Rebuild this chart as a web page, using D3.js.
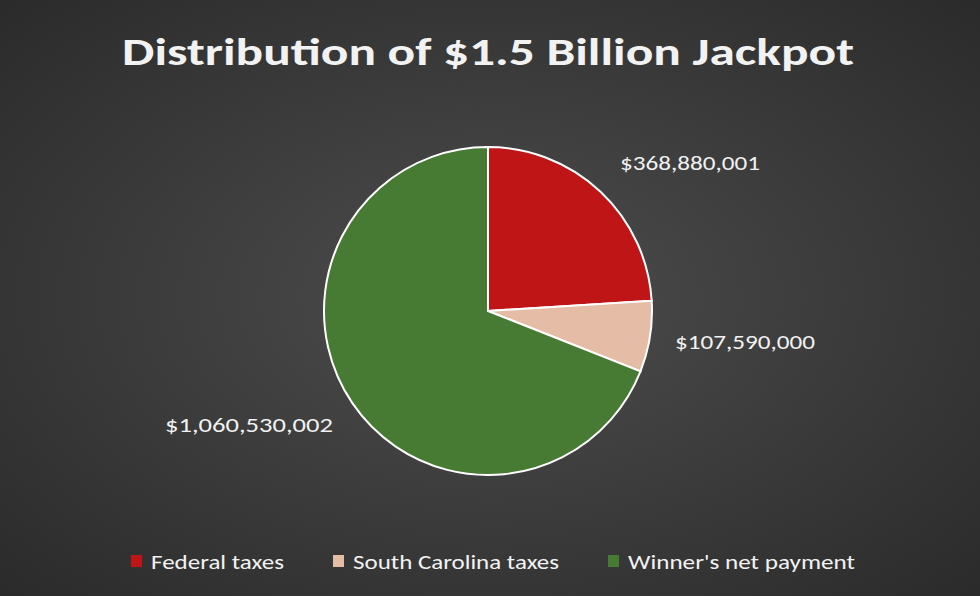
<!DOCTYPE html>
<html><head><meta charset="utf-8">
<script src="https://cdn.jsdelivr.net/npm/d3@7"></script>
<style>body{margin:0;background:#333}</style></head>
<body><svg id="c" width="980" height="596"></svg>
<script>
const categories = ["Federal taxes", "South Carolina taxes", "Winner's net payment"];
const values = [368880001, 107590000, 1060530002];
const labels = ["$368,880,001", "$107,590,000", "$1,060,530,002"];
const colors = ["#c01517", "#e5bca6", "#477a33"];

const svg = d3.select("#c");
const defs = svg.append("defs");
const g = defs.append("radialGradient").attr("id","bg").attr("cx","50%").attr("cy","50%").attr("r","70%");
g.append("stop").attr("offset","0%").attr("stop-color","#4d4d4d");
g.append("stop").attr("offset","100%").attr("stop-color","#2b2b2b");
svg.append("rect").attr("width",980).attr("height",596).attr("fill","url(#bg)");

const font = "Calibri, Carlito, 'Open Sans', sans-serif";
svg.append("text").attr("x",122).attr("y",65)
  .attr("fill","#f2f2f2").attr("font-family",font).attr("font-weight","bold")
  .attr("font-size",38).attr("textLength",732).attr("lengthAdjust","spacingAndGlyphs")
  .text("Distribution of $1.5 Billion Jackpot");

const cx=488, cy=311, r=164;
const pie = d3.pie().sort(null)(values);
const arc = d3.arc().innerRadius(0).outerRadius(r);
const pg = svg.append("g").attr("transform",`translate(${cx},${cy})`);
pg.selectAll("path").data(pie).join("path").attr("d",arc)
  .attr("fill",(d,i)=>colors[i]).attr("stroke","#fff").attr("stroke-width",2);

const labelPos = [[620,170,140],[675,349,140],[165,432,168]];
svg.selectAll("text.lbl").data(labels).join("text").attr("class","lbl")
  .attr("x",(d,i)=>labelPos[i][0]).attr("y",(d,i)=>labelPos[i][1])
  .attr("textLength",(d,i)=>labelPos[i][2]).attr("lengthAdjust","spacingAndGlyphs")
  .attr("fill","#f2f2f2").attr("font-family",font).attr("font-size",21).text(d=>d);

const legX=[131,333,608], legW=[133,206,227];
const lg = svg.selectAll("g.leg").data(categories).join("g").attr("class","leg")
  .attr("transform",(d,i)=>`translate(${legX[i]},561)`);
lg.append("rect").attr("x",0).attr("y",-6).attr("width",11).attr("height",12).attr("fill",(d,i)=>colors[i]);
lg.append("text").attr("x",20).attr("y",8).attr("fill","#f2f2f2").attr("font-family",font)
  .attr("font-size",21).attr("textLength",(d,i)=>legW[i]).attr("lengthAdjust","spacingAndGlyphs").text(d=>d);
</script></body></html>
